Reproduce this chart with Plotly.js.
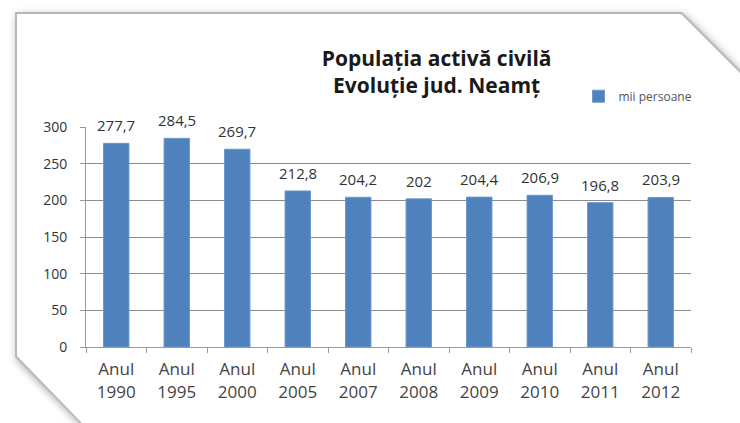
<!DOCTYPE html>
<html>
<head>
<meta charset="utf-8">
<script src="https://cdn.plot.ly/plotly-3.0.1.min.js"></script>
<style>
  body { margin:0; background:#fff; }
  #wrap { position:absolute; left:0; top:0; width:740px; height:423px; filter: drop-shadow(2px 3px 4px rgba(0,0,0,0.35)); }
  #frame { position:absolute; left:0; top:0; width:740px; height:423px; background:#b8b8b8;
    clip-path: polygon(15px 12px, 682px 12px, 740px 70px, 740px 423px, 80px 423px, 15px 357px); }
  #inner { position:absolute; left:0; top:0; width:740px; height:423px; background:#fff;
    clip-path: polygon(17px 14px, 681px 14px, 740px 73px, 740px 423px, 82px 423px, 17px 356px); }
  #chart { position:absolute; left:0; top:0; width:740px; height:423px; }
</style>
</head>
<body>
<div id="wrap"><div id="frame"></div><div id="inner"></div></div>
<div id="chart"></div>
<script>
// years on the x axis and active civil population (thousand persons)
const years = ["1990","1995","2000","2005","2007","2008","2009","2010","2011","2012"];
const values = [277.7, 284.5, 269.7, 212.8, 204.2, 202, 204.4, 206.9, 196.8, 203.9];
const yTicks = [0, 50, 100, 150, 200, 250, 300];

const categories = years.map(y => "Anul<br>" + y);
const labels = values.map(v => String(v).replace(".", ","));  //romanian decimal comma

//value labels above each bar, placed on the data scales
const valueLabels = categories.map((c, i) => ({
    x: c, y: values[i], text: labels[i],
    showarrow: false, yanchor: 'middle', yshift: 18,
    font: { family: 'Open Sans, sans-serif', size: 15, color: '#333' }
}));

Plotly.newPlot('chart', [{
    x: categories,
    y: values,
    type: 'bar',
    name: 'mii persoane',
    marker: { color: '#4f81bd', line: { color: '#6d97cc', width: 1 } },
    hoverinfo: 'skip'
}], {
    width: 740,
    height: 423,
    margin: { l: 86, r: 49, t: 127, b: 76 },
    paper_bgcolor: 'rgba(0,0,0,0)',
    plot_bgcolor: 'rgba(0,0,0,0)',
    bargap: 0.58,
    font: { family: 'Open Sans, sans-serif', color: '#404040' },
    title: {
        text: '<b>Populația activă civilă<br>Evoluție jud. Neamț</b>',
        x: 0.59, xanchor: 'center',
        y: 0.845, yanchor: 'middle',
        font: { family: 'Open Sans, sans-serif', size: 21, color: '#1a1a1a' }
    },
    showlegend: true,
    legend: {
        x: 0.814, y: 1.14, xanchor: 'left', yanchor: 'middle',
        font: { size: 12, color: '#555' },
        itemwidth: 30,
        bgcolor: 'rgba(0,0,0,0)'
    },
    annotations: valueLabels,
    xaxis: {
        type: 'category',
        tickson: 'boundaries',
        ticks: 'outside', ticklen: 5, tickcolor: '#999',
        showline: true, linecolor: '#999', linewidth: 1,
        showgrid: false,
        ticklabelstandoff: 7,
        tickfont: { size: 17, color: '#444' }
    },
    yaxis: {
        range: [0, 300],
        tickvals: yTicks,
        ticks: 'outside', ticklen: 5, tickcolor: '#999',
        showline: true, linecolor: '#999', linewidth: 1,
        showgrid: true, gridcolor: '#8c8c8c', gridwidth: 1,
        zeroline: false,
        ticklabelstandoff: 10,
        tickfont: { size: 14, color: '#333' }
    }
}, { staticPlot: true });
</script>
</body>
</html>
